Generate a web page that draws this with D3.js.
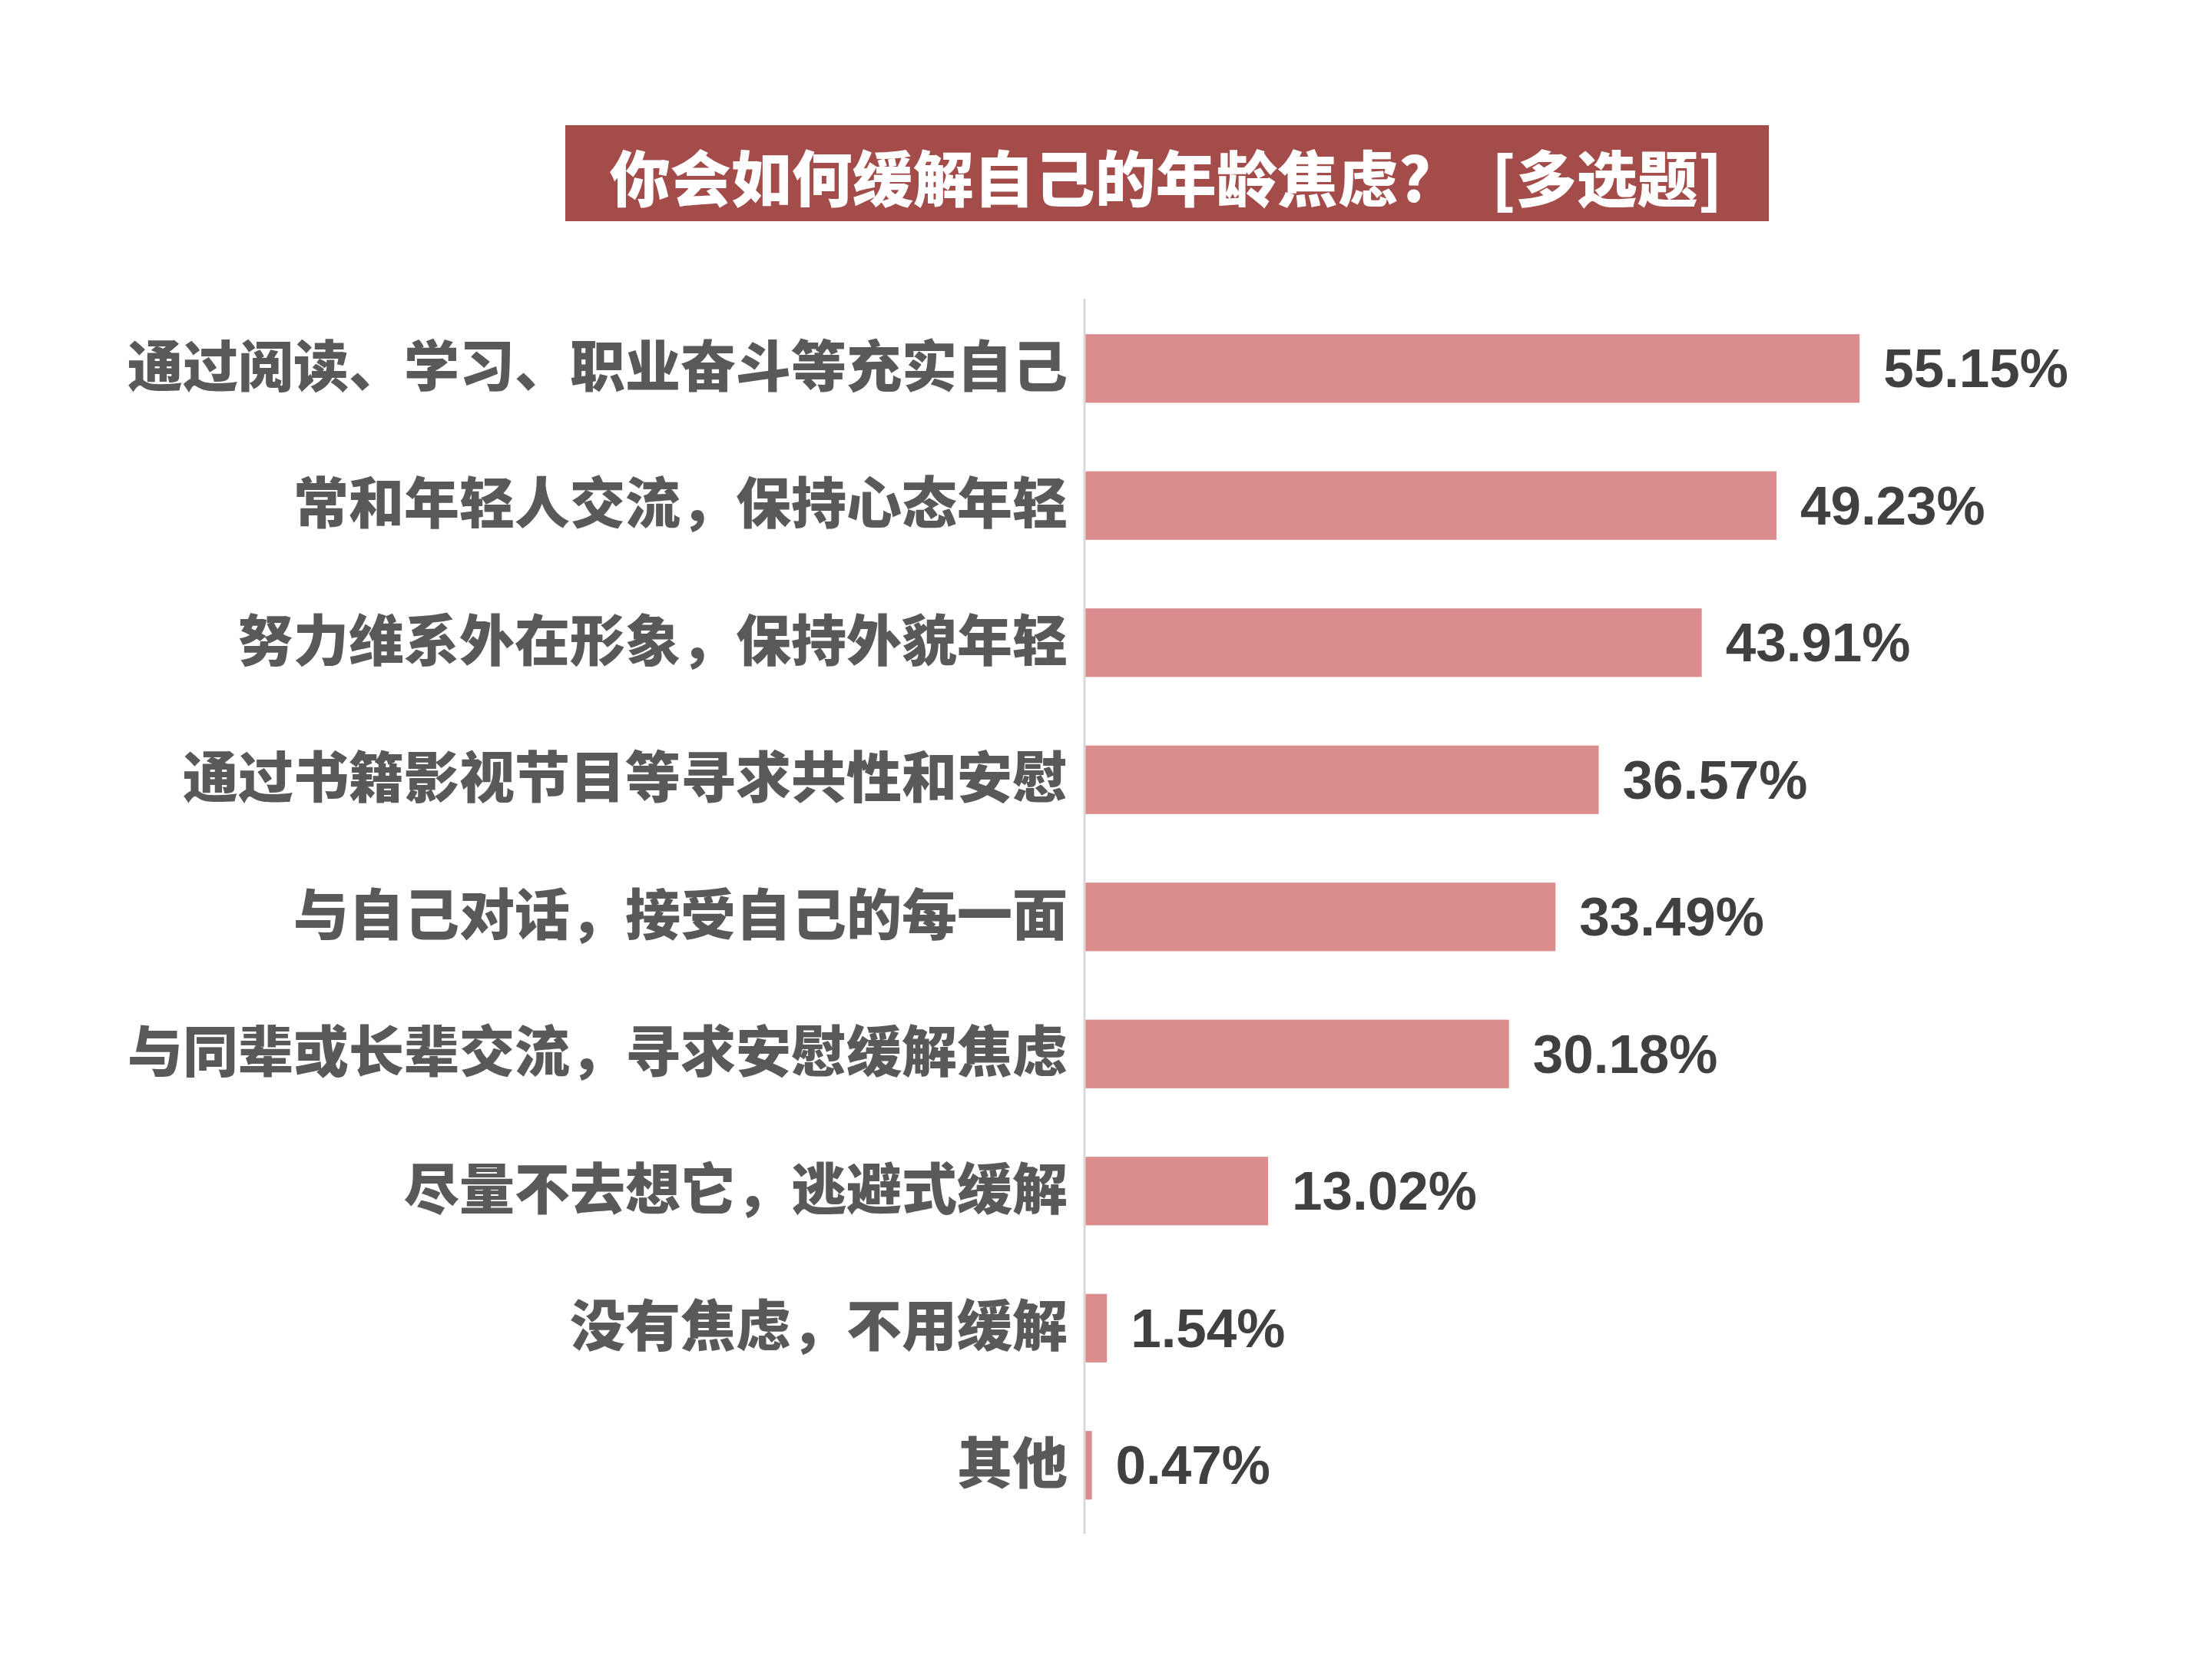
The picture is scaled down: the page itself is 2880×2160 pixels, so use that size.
<!DOCTYPE html>
<html><head><meta charset="utf-8">
<script src="https://cdn.jsdelivr.net/npm/d3@7"></script>
<style>body{margin:0;background:#fff}</style>
</head><body>
<script>
const categories = ["通过阅读、学习、职业奋斗等充实自己","常和年轻人交流，保持心态年轻","努力维系外在形象，保持外貌年轻","通过书籍影视节目等寻求共性和安慰","与自己对话，接受自己的每一面","与同辈或长辈交流，寻求安慰缓解焦虑","尽量不去想它，逃避式缓解","没有焦虑，不用缓解","其他"];
const values = [55.15,49.23,43.91,36.57,33.49,30.18,13.02,1.54,0.47];
const valueLabels = ["55.15%","49.23%","43.91%","36.57%","33.49%","30.18%","13.02%","1.54%","0.47%"];
const title = "你会如何缓解自己的年龄焦虑?　[多选题]";

const W=2880,H=2160;
const svg=d3.select("body").append("svg").attr("width",W).attr("height",H);
svg.append("rect").attr("width",W).attr("height",H).attr("fill","#fff");

// title
svg.append("rect").attr("x",736).attr("y",163).attr("width",1567).attr("height",125).attr("fill","#A34C4A");
svg.append("text").attr("x",1518).attr("y",228).attr("text-anchor","middle").attr("dominant-baseline","central")
  .attr("fill","#fff").attr("font-family","'Noto Sans CJK SC'").attr("font-weight","900").attr("font-size",79)
  .style("white-space","pre").text(title);

const y=d3.scaleBand().domain(categories).range([390.5,1997]).paddingInner(0.5).paddingOuter(0.25);
const x=d3.scaleLinear().domain([0,60]).range([1413,1413+60*18.28]);

const g=svg.append("g");
g.selectAll("rect.bar").data(values).join("rect").attr("class","bar")
  .attr("x",x(0)).attr("y",(d,i)=>y(categories[i])).attr("width",d=>x(d)-x(0)).attr("height",y.bandwidth())
  .attr("fill","#DB8C8C");

// axis line
svg.append("line").attr("x1",1412).attr("x2",1412).attr("y1",389).attr("y2",1997).attr("stroke","#D9D9D9").attr("stroke-width",3);

const yAxis=d3.axisLeft(y).tickSize(0).tickPadding(22);
const ag=svg.append("g").attr("transform","translate(1412,0)").call(yAxis);
ag.select(".domain").remove();
ag.selectAll("text").attr("fill","#595959").attr("font-family","'Noto Sans CJK SC'").attr("font-weight","900").attr("font-size",72);

g.selectAll("text.val").data(values).join("text").attr("class","val")
  .attr("x",d=>x(d)+31).attr("y",(d,i)=>y(categories[i])+y.bandwidth()/2).attr("dominant-baseline","central")
  .attr("fill","#404040").attr("font-family","'Liberation Sans',Arial").attr("font-weight","bold").attr("font-size",71)
  .text((d,i)=>valueLabels[i]);
</script>
</body></html>
